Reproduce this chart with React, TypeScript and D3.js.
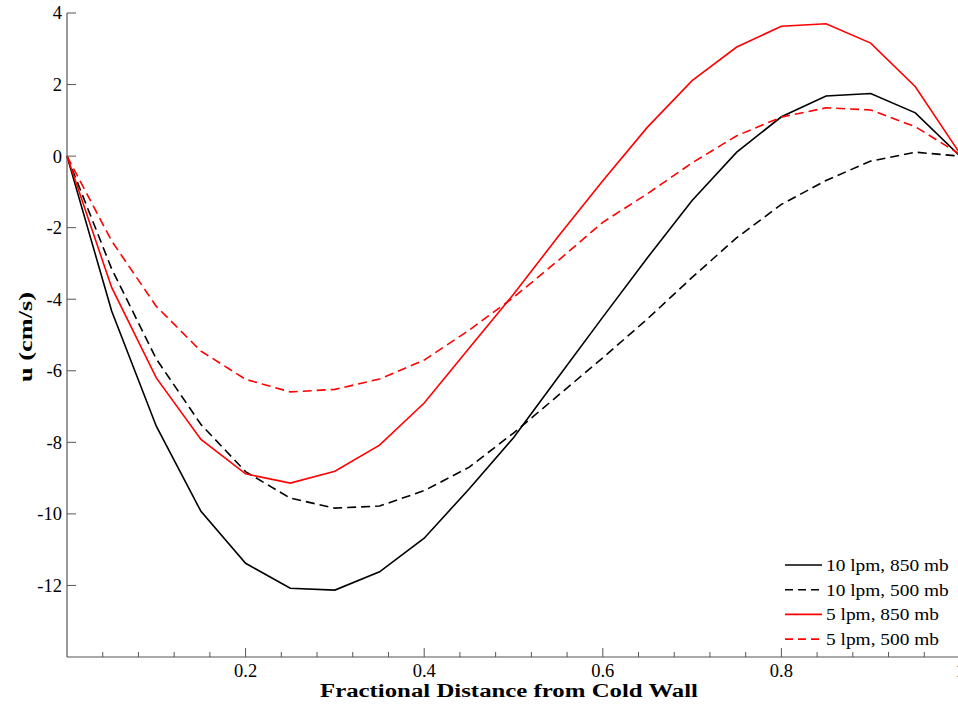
import React from "react";
import * as d3 from "d3";

const xs = [0, 0.05, 0.1, 0.15, 0.2, 0.25, 0.3, 0.35, 0.4, 0.45, 0.5, 0.55, 0.6, 0.65, 0.7, 0.75, 0.8, 0.85, 0.9, 0.95, 1.0];

const lpm10_850 = [0, -4.33, -7.55, -9.93, -11.38, -12.08, -12.13, -11.62, -10.68, -9.31, -7.87, -6.18, -4.5, -2.84, -1.24, 0.11, 1.1, 1.68, 1.75, 1.21, 0];
const lpm10_500 = [0, -3.15, -5.67, -7.5, -8.82, -9.56, -9.84, -9.78, -9.35, -8.7, -7.74, -6.69, -5.64, -4.55, -3.39, -2.28, -1.35, -0.68, -0.14, 0.11, 0];
const lpm5_850 = [0, -3.67, -6.2, -7.92, -8.88, -9.14, -8.81, -8.08, -6.9, -5.38, -3.86, -2.25, -0.69, 0.81, 2.11, 3.05, 3.63, 3.7, 3.16, 1.94, 0.07];
const lpm5_500 = [0, -2.37, -4.2, -5.45, -6.24, -6.59, -6.52, -6.23, -5.7, -4.87, -3.95, -2.92, -1.85, -1.05, -0.19, 0.57, 1.09, 1.35, 1.29, 0.82, 0.05];

const seriesNames = ["10 lpm, 850 mb", "10 lpm, 500 mb", "5 lpm, 850 mb", "5 lpm, 500 mb"];
const seriesData = [lpm10_850, lpm10_500, lpm5_850, lpm5_500];
const seriesColors = ["#000000", "#000000", "#ff0000", "#ff0000"];
const seriesDashed = [false, true, false, true];

const xMajorTicks = [0.2, 0.4, 0.6, 0.8, 1.0];
const xMajorLabels = ["0.2", "0.4", "0.6", "0.8", "1"];
const xMinorTicks = [0.04, 0.08, 0.12, 0.16, 0.24, 0.28, 0.32, 0.36, 0.44, 0.48, 0.52, 0.56, 0.64, 0.68, 0.72, 0.76, 0.84, 0.88, 0.92, 0.96];
const yTicks = [4, 2, 0, -2, -4, -6, -8, -10, -12];

const W = 958;
const H = 708;
const left = 67;
const right = 960;
const top = 13;
const bottom = 657;

export default function App() {
  const x = d3.scaleLinear().domain([0, 1]).range([left, right]);
  const y = d3.scaleLinear().domain([-14, 4]).range([bottom, top]);
  const line = d3
    .line<number>()
    .x((_, i) => x(xs[i]))
    .y((d) => y(d));
  const font = "'Liberation Serif', 'Times New Roman', serif";
  const axisColor = "#555";

  return (
    <svg width={W} height={H} style={{ position: "absolute", left: 0, top: 0, background: "#fff" }} fontFamily={font}>
      <rect x={0} y={0} width={W} height={H} fill="#fff" />
      {seriesData.map((s, i) => (
        <path
          key={i}
          d={line(s) || ""}
          fill="none"
          stroke={seriesColors[i]}
          strokeWidth={1.6}
          strokeDasharray={seriesDashed[i] ? "9,5" : undefined}
        />
      ))}
      {/* axes */}
      <line x1={left} x2={left} y1={top} y2={bottom} stroke={axisColor} strokeWidth={1.2} />
      <line x1={left} x2={right} y1={bottom} y2={bottom} stroke={axisColor} strokeWidth={1.2} />
      {xMajorTicks.map((t, i) => (
        <g key={"xm" + i}>
          <line x1={x(t)} x2={x(t)} y1={bottom} y2={bottom - 9} stroke={axisColor} strokeWidth={1} />
          <text x={x(t)} y={677} textAnchor="middle" fontSize={18.5} fill="#000">
            {xMajorLabels[i]}
          </text>
        </g>
      ))}
      {xMinorTicks.map((t, i) => (
        <line key={"xn" + i} x1={x(t)} x2={x(t)} y1={bottom} y2={bottom - 5} stroke={axisColor} strokeWidth={1} />
      ))}
      {yTicks.map((t, i) => (
        <g key={"y" + i}>
          <line x1={left} x2={left + 9} y1={y(t)} y2={y(t)} stroke={axisColor} strokeWidth={1} />
          <text x={62} y={y(t)} dy="0.35em" textAnchor="end" fontSize={18.5} fill="#000">
            {t}
          </text>
        </g>
      ))}
      <text
        x={320}
        y={697}
        textLength={378}
        lengthAdjust="spacingAndGlyphs"
        fontSize={18.5}
        fontWeight="bold"
        fill="#000"
      >
        Fractional Distance from Cold Wall
      </text>
      <text
        transform={`translate(25, 382) rotate(-90)`}
        textLength={90}
        lengthAdjust="spacingAndGlyphs"
        dy="0.35em"
        fontSize={19}
        fontWeight="bold"
        fill="#000"
      >
        u (cm/s)
      </text>
      {/* legend */}
      {seriesNames.map((n, i) => {
        const ly = 565 + i * 24.7;
        return (
          <g key={"lg" + i}>
            <line
              x1={785}
              x2={822}
              y1={ly}
              y2={ly}
              stroke={seriesColors[i]}
              strokeWidth={1.6}
              strokeDasharray={seriesDashed[i] ? "8,5" : undefined}
            />
            <text
              transform={`translate(826, ${ly}) scale(1.14, 1)`}
              dy="0.35em"
              fontSize={17}
              fill="#000"
            >
              {n}
            </text>
          </g>
        );
      })}
    </svg>
  );
}
